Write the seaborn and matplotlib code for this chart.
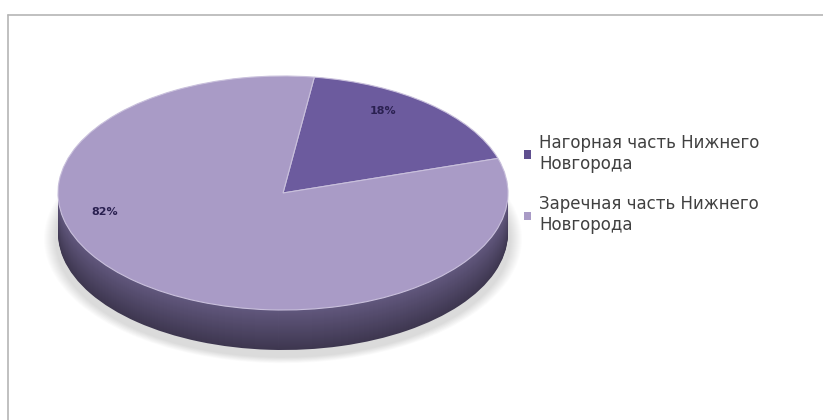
import matplotlib
matplotlib.use('Agg')
import matplotlib.pyplot as plt
import seaborn as sns
import numpy as np

# data
labels = ['Нагорная часть Нижнего\nНовгорода', 'Заречная часть Нижнего\nНовгорода']
shares = [18, 82]
pct_labels = ['18%', '82%']
colors = ['#6c5b9e', '#a99bc6']

sns.set_theme(style='white')
plt.rcParams['font.family'] = ['DejaVu Sans']

W, H = 823, 420
squash = 117 / 225  # tilt of the pie
fig = plt.figure(figsize=(W / 100, H / 100), dpi=100)
ax = fig.add_axes([0, 0, 1, 1])

cx, cy = 283, (H - 193) / squash
r = 225
depth = 40
start = 82

# soft shadow under the pie
for k in range(12):
    ax.pie(shares, colors=['#000000'] * 2, radius=r + 14 - k,
           center=(cx, cy - (depth + 6) / squash), startangle=start, counterclock=False,
           wedgeprops=dict(alpha=0.012, linewidth=0), frame=True)

# side wall: stack of darker pies
side_top = np.array([0x62, 0x58, 0x7e]) / 255
side_bot = np.array([0x3e, 0x37, 0x50]) / 255
for d in range(depth, 0, -1):
    t = d / depth
    c = side_top * (1 - t) + side_bot * t
    ax.pie(shares, colors=[c, c], radius=r, center=(cx, cy - d / squash),
           startangle=start, counterclock=False,
           wedgeprops=dict(linewidth=0), frame=True)

# top face
wedges, _ = ax.pie(shares, colors=colors, radius=r, center=(cx, cy),
                   startangle=start, counterclock=False,
                   wedgeprops=dict(linewidth=0.8, edgecolor='#c9c0dc'), frame=True)
ax.set_xlim(0, W)
ax.set_ylim(0, H / squash)
ax.set_aspect('auto')
ax.axis('off')

# percentage labels, placed Excel-like
label_pos = [(383, 111), (105, 212)]
for txt, (px, py) in zip(pct_labels, label_pos):
    ax.text(px, (H - py) / squash, txt, ha='center', va='center',
            fontsize=8, fontweight='bold', color='#2a2050')

leg = fig.legend(wedges, labels, loc='upper left', bbox_to_anchor=(509 / W, 1 - 119 / H),
                 frameon=False, fontsize=12, handlelength=0.4, handleheight=0.4,
                 handletextpad=0.5, labelspacing=1.35, labelcolor='#404040')
for t in leg.get_texts():
    t.set_linespacing(1.2)
leg.legend_handles[0].set_facecolor('#5f4f8f')
leg.legend_handles[1].set_facecolor('#a99bc6')
for h in leg.legend_handles:
    h.set_edgecolor('none')

# chart border
fig.add_artist(plt.Line2D([8 / W, 1], [1 - 15 / H, 1 - 15 / H], color='#b5b5b5', lw=1.2))
fig.add_artist(plt.Line2D([8 / W, 8 / W], [0, 1 - 15 / H], color='#b5b5b5', lw=1.2))

fig.savefig('out.png', dpi=100, facecolor='white')
